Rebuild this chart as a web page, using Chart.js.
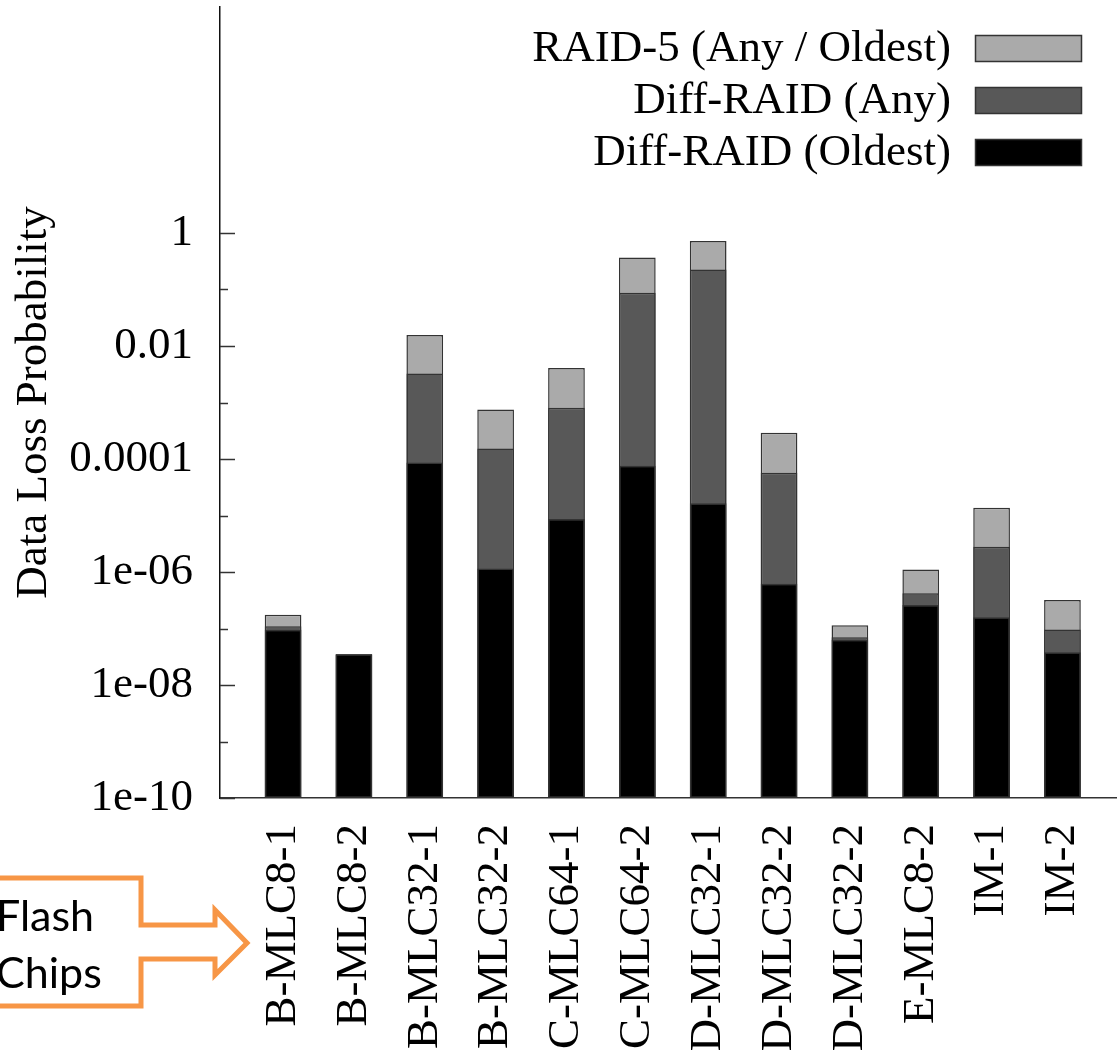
<!DOCTYPE html>
<html>
<head>
<meta charset="utf-8">
<title>Data Loss Probability per Flash Chip</title>
<script src="https://cdn.jsdelivr.net/npm/chart.js@4.4.1/dist/chart.umd.min.js"></script>
<style>
  html, body { margin: 0; padding: 0; background: #ffffff; }
  #wrap { position: relative; width: 1117px; height: 1050px; }
  .fontwarm { position: absolute; left: -9999px; top: 0; font-size: 45px; }
</style>
</head>
<body>
<div id="wrap"><canvas id="chart" width="1117" height="1050"></canvas></div>
<span class="fontwarm" style="font-family: 'Liberation Serif'">Data Loss Probability 0.0001</span>
<span class="fontwarm" style="font-family: Lato">Flash Chips</span>
<script>
// Flash chips on the x axis
const chips = ['B-MLC8-1', 'B-MLC8-2', 'B-MLC32-1', 'B-MLC32-2', 'C-MLC64-1', 'C-MLC64-2',
               'D-MLC32-1', 'D-MLC32-2', 'D-MLC32-2', 'E-MLC8-2', 'IM-1', 'IM-2'];

// Data loss probability for each scheme
const raid5      = [1.75e-7, 3.5e-8, 1.57e-2, 7.5e-4, 4.1e-3, 0.367, 0.725, 2.9e-4, 1.14e-7, 1.11e-6, 1.37e-5, 3.2e-7];
const diffAny    = [1.10e-7, 3.5e-8, 3.25e-3, 1.53e-4, 8.1e-4, 0.088, 0.225, 5.7e-5, 7.0e-8, 4.2e-7, 2.8e-6, 9.6e-8];
const diffOldest = [9.5e-8, 3.5e-8, 8.65e-5, 1.15e-6, 8.7e-6, 7.6e-5, 1.65e-5, 6.2e-7, 6.3e-8, 2.6e-7, 1.58e-7, 3.8e-8];

// Series names, in legend order
const seriesNames = ['RAID-5 (Any / Oldest)', 'Diff-RAID (Any)', 'Diff-RAID (Oldest)'];

// Log axis ticks
const yMajorValues = [1e-10, 1e-8, 1e-6, 1e-4, 1e-2, 1];
const yMajorLabels = ['1e-10', '1e-08', '1e-06', '0.0001', '0.01', '1'];
const yMinorValues = [1e-9, 1e-7, 1e-5, 1e-3, 1e-1];

const SERIF = '"Liberation Serif", Tinos, "Nimbus Roman", "DejaVu Serif", serif';
const SANS = 'Lato, "Open Sans", sans-serif';
const fills = { raid5: '#aaaaaa', any: '#585858', oldest: '#000000' };
const edge = '#333333';

const points = arr => arr.map((v, i) => ({ x: i, y: v }));

// Inward tick marks on the left axis (major ticks longer than minor ones)
const inwardTicks = {
  id: 'inwardTicks',
  afterDatasetsDraw(chart) {
    const y = chart.scales.y;
    const left = chart.chartArea.left;
    const ctx = chart.ctx;
    ctx.save();
    ctx.strokeStyle = '#333333';
    ctx.lineWidth = 1.5;
    const mark = (v, len) => {
      const p = Math.round(y.getPixelForValue(v)) + 0.5;
      ctx.beginPath();
      ctx.moveTo(left, p);
      ctx.lineTo(left + len, p);
      ctx.stroke();
    };
    yMajorValues.forEach(v => mark(v, 15));
    yMinorValues.forEach(v => mark(v, 8));
    ctx.restore();
  }
};

// Legend in the top-right corner: text on the left, swatch on the right
const keyLegend = {
  id: 'keyLegend',
  afterDraw(chart) {
    const ctx = chart.ctx;
    const ca = chart.chartArea;
    const boxW = 107, boxH = 27, rowH = 52;
    const boxX = ca.right - 35 - boxW;
    const top = 35;
    const colors = [fills.raid5, fills.any, fills.oldest];
    ctx.save();
    ctx.font = '45px ' + SERIF;
    ctx.textAlign = 'right';
    ctx.textBaseline = 'middle';
    seriesNames.forEach((name, i) => {
      const y = top + i * rowH;
      ctx.fillStyle = '#000000';
      ctx.fillText(name, boxX - 24, y + boxH / 2 + 1);
      ctx.fillStyle = colors[i];
      ctx.fillRect(boxX, y, boxW, boxH);
      ctx.strokeStyle = edge;
      ctx.lineWidth = 1.5;
      ctx.strokeRect(boxX + 0.5, y + 0.5, boxW - 1, boxH - 1);
    });
    ctx.restore();
  }
};

// Orange arrow callout pointing at the chip names
const chipsCallout = {
  id: 'chipsCallout',
  afterDraw(chart) {
    const ctx = chart.ctx;
    ctx.save();
    ctx.strokeStyle = '#f79646';
    ctx.lineWidth = 5;
    ctx.lineJoin = 'miter';
    ctx.beginPath();
    ctx.moveTo(-10, 878);
    ctx.lineTo(141, 878);
    ctx.lineTo(141, 925);
    ctx.lineTo(215, 925);
    ctx.lineTo(215, 910);
    ctx.lineTo(247, 943);
    ctx.lineTo(215, 975);
    ctx.lineTo(215, 959);
    ctx.lineTo(141, 959);
    ctx.lineTo(141, 1006);
    ctx.lineTo(-10, 1006);
    ctx.stroke();
    ctx.fillStyle = '#000000';
    ctx.font = '43px ' + SANS;
    ctx.textAlign = 'left';
    ctx.textBaseline = 'alphabetic';
    ctx.fillText('Flash', -4, 931);
    ctx.fillText('Chips', -4, 988);
    ctx.restore();
  }
};

const barStyle = { borderColor: edge, borderWidth: 1.5, borderSkipped: false, grouped: false,
                   barPercentage: 0.518, categoryPercentage: 1.0 };

function drawChart() {
  new Chart(document.getElementById('chart'), {
    type: 'bar',
    data: {
      // first dataset is painted last, so the smallest values sit in front
      datasets: [
        Object.assign({ label: seriesNames[2], data: points(diffOldest), backgroundColor: fills.oldest }, barStyle),
        Object.assign({ label: seriesNames[1], data: points(diffAny), backgroundColor: fills.any }, barStyle),
        Object.assign({ label: seriesNames[0], data: points(raid5), backgroundColor: fills.raid5 }, barStyle)
      ]
    },
    options: {
      responsive: false,
      animation: false,
      layout: { padding: { top: 7, left: 0, right: 0, bottom: 0 } },
      plugins: { legend: { display: false }, tooltip: { enabled: false } },
      scales: {
        x: {
          type: 'linear',
          offset: false,
          min: -0.89,
          max: 11.77,
          grid: { display: false, drawTicks: false },
          border: { display: true, color: '#333333', width: 1.5 },
          afterBuildTicks(scale) { scale.ticks = chips.map((_, i) => ({ value: i })); },
          afterFit(scale) { scale.height = 252; scale.paddingLeft = 0; scale.paddingRight = 0; },
          ticks: {
            autoSkip: false,
            minRotation: 90,
            maxRotation: 90,
            padding: 26,
            color: '#000000',
            font: { family: SERIF, size: 45 },
            callback: v => chips[v] ?? ''
          }
        },
        y: {
          type: 'logarithmic',
          min: 1e-10,
          max: 1e4,
          grid: { display: false, drawTicks: false },
          border: { display: true, color: '#111111', width: 1.5 },
          afterBuildTicks(scale) {
            scale.ticks = yMajorValues.concat(yMinorValues).sort((a, b) => a - b).map(v => ({ value: v }));
          },
          afterFit(scale) { scale.width = 220; scale.paddingTop = 0; scale.paddingBottom = 0; },
          ticks: {
            autoSkip: false,
            padding: 27,
            color: '#000000',
            font: { family: SERIF, size: 45 },
            callback: v => {
              const k = yMajorValues.findIndex(m => Math.abs(Math.log10(m) - Math.log10(v)) < 1e-6);
              return k >= 0 ? yMajorLabels[k] : '';
            }
          },
          title: {
            display: true,
            text: 'Data Loss Probability',
            color: '#000000',
            font: { family: SERIF, size: 45 },
            padding: { top: 7, bottom: 0 }
          }
        }
      }
    },
    plugins: [inwardTicks, keyLegend, chipsCallout]
  });
}

// make sure the faces are ready before painting on the canvas
const fontLoads = [
  document.fonts.load('45px "Liberation Serif"', 'Data Loss 0.0001'),
  document.fonts.load('43px Lato', 'Flash Chips')
];
Promise.race([
  Promise.all(fontLoads).then(() => document.fonts.ready),
  new Promise(r => setTimeout(r, 1500))
]).catch(() => {}).then(drawChart);
</script>
</body>
</html>
